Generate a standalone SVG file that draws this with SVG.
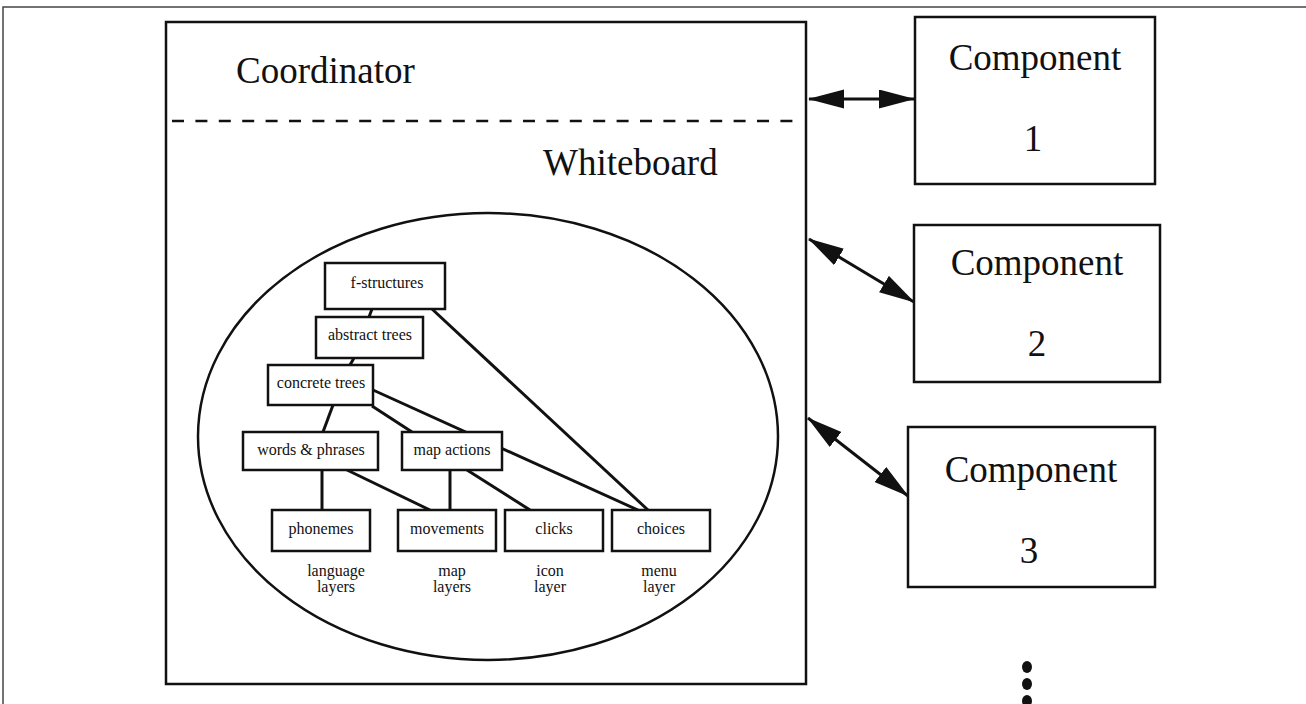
<svg xmlns="http://www.w3.org/2000/svg" width="1306" height="704" viewBox="0 0 1306 704">
  <style>
    .frame { fill: none; stroke: #444; stroke-width: 1.5; }
    .box { fill: #fff; stroke: #111; stroke-width: 2.5; }
    .inner { fill: #fff; stroke: #111; stroke-width: 2.5; }
    .big { font-family: "Liberation Serif", "Times New Roman", serif; font-size: 37px; fill: #111; }
    .small { font-family: "Liberation Serif", "Times New Roman", serif; font-size: 16px; fill: #111; text-anchor: middle; }
    .mid { text-anchor: middle; }
    .edge { stroke: #111; stroke-width: 3; fill: none; }
    .arrow { stroke: #111; stroke-width: 3; fill: none; marker-start: url(#head); marker-end: url(#head); }
  </style>
  <defs>
    <marker id="head" markerUnits="userSpaceOnUse" markerWidth="38" markerHeight="20" refX="35" refY="9.5" orient="auto-start-reverse">
      <path d="M0,0 L36,9.5 L0,19 Z" fill="#111"/>
    </marker>
  </defs>

  <rect width="1306" height="704" fill="#fff"/>
  <!-- page frame -->
  <path class="frame" d="M3,704 V7 H1306"/>

  <!-- coordinator / whiteboard -->
  <g id="coordinator">
    <rect class="box" x="166" y="22" width="640" height="662" stroke-width="2"/>
    <text class="big" x="236" y="83">Coordinator</text>
    <line x1="172" y1="121" x2="803" y2="121" stroke="#111" stroke-width="2.5" stroke-dasharray="12 11.4"/>
    <text class="big" x="543" y="175">Whiteboard</text>
  </g>

  <g id="whiteboard-layers">
    <ellipse cx="488" cy="436.5" rx="290" ry="223.5" fill="none" stroke="#111" stroke-width="2.5"/>
  </g>

  <!-- tree connectors, drawn beneath the layer boxes -->
  <g id="connectors">
    <line class="edge" x1="372" y1="309" x2="369" y2="317"/>
    <line class="edge" x1="354" y1="358" x2="350" y2="365"/>
    <line class="edge" x1="432" y1="309" x2="648" y2="510"/>
    <line class="edge" x1="333" y1="405" x2="323" y2="432"/>
    <line class="edge" x1="372" y1="406" x2="412" y2="432"/>
    <line class="edge" x1="373" y1="390" x2="638" y2="510"/>
    <line class="edge" x1="322" y1="470" x2="322" y2="510"/>
    <line class="edge" x1="347" y1="470" x2="430" y2="510"/>
    <line class="edge" x1="450" y1="470" x2="450" y2="510"/>
    <line class="edge" x1="467" y1="470" x2="530" y2="510"/>
    <!-- links to the components -->
    <line class="arrow" x1="809" y1="99" x2="914" y2="99"/>
    <line class="arrow" x1="809" y1="239" x2="914" y2="302"/>
    <line class="arrow" x1="808" y1="418" x2="908" y2="496"/>
  </g>

  <g id="f-structures">
    <rect class="inner" x="325" y="263" width="120" height="46"/>
    <text class="small" x="387" y="288">f-structures</text>
  </g>
  <g id="abstract-trees">
    <rect class="inner" x="316" y="317" width="107" height="41"/>
    <text class="small" x="370" y="340">abstract trees</text>
  </g>
  <g id="concrete-trees">
    <rect class="inner" x="268" y="365" width="105" height="40"/>
    <text class="small" x="321" y="388">concrete trees</text>
  </g>
  <g id="words-phrases">
    <rect class="inner" x="243" y="432" width="135" height="38"/>
    <text class="small" x="311" y="455">words &amp; phrases</text>
  </g>
  <g id="map-actions">
    <rect class="inner" x="402" y="432" width="100" height="38"/>
    <text class="small" x="452" y="455">map actions</text>
  </g>
  <g id="phonemes">
    <rect class="inner" x="272" y="510" width="98" height="41"/>
    <text class="small" x="321" y="534">phonemes</text>
    <text class="small" x="336" y="576">language</text>
    <text class="small" x="336" y="592">layers</text>
  </g>
  <g id="movements">
    <rect class="inner" x="398" y="510" width="98" height="41"/>
    <text class="small" x="447" y="534">movements</text>
    <text class="small" x="452" y="576">map</text>
    <text class="small" x="452" y="592">layers</text>
  </g>
  <g id="clicks">
    <rect class="inner" x="505" y="510" width="98" height="41"/>
    <text class="small" x="554" y="534">clicks</text>
    <text class="small" x="550" y="576">icon</text>
    <text class="small" x="550" y="592">layer</text>
  </g>
  <g id="choices">
    <rect class="inner" x="612" y="510" width="98" height="41"/>
    <text class="small" x="661" y="534">choices</text>
    <text class="small" x="659" y="576">menu</text>
    <text class="small" x="659" y="592">layer</text>
  </g>

  <g id="component-1">
    <rect class="box" x="915" y="17" width="240" height="167"/>
    <text class="big mid" x="1035" y="70">Component</text>
    <text class="big mid" x="1033" y="151">1</text>
  </g>
  <g id="component-2">
    <rect class="box" x="914" y="225" width="246" height="157"/>
    <text class="big mid" x="1037" y="275">Component</text>
    <text class="big mid" x="1037" y="356">2</text>
  </g>
  <g id="component-3">
    <rect class="box" x="908" y="427" width="247" height="160"/>
    <text class="big mid" x="1031" y="482">Component</text>
    <text class="big mid" x="1029" y="563">3</text>
  </g>

  <!-- more components -->
  <g id="more" fill="#111">
    <ellipse cx="1027" cy="667" rx="5" ry="6"/>
    <ellipse cx="1027" cy="684" rx="5" ry="6"/>
    <ellipse cx="1027" cy="701" rx="5" ry="6"/>
  </g>
</svg>
